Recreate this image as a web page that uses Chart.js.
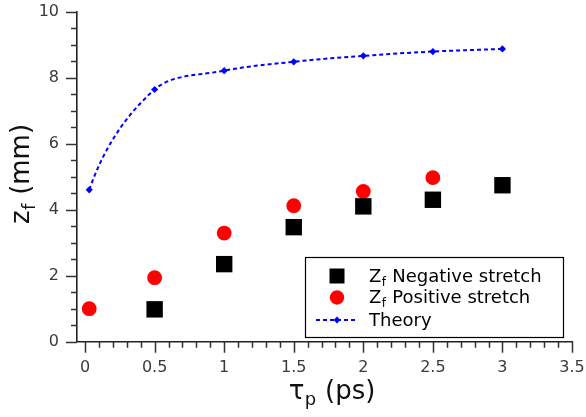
<!DOCTYPE html>
<html>
<head>
<meta charset="utf-8">
<script src="https://cdn.jsdelivr.net/npm/chart.js@4.4.1/dist/chart.umd.min.js"></script>
<style>
    html, body { margin: 0; padding: 0; background: #fff; }
    #wrap { width: 586px; height: 417px; }
</style>
</head>
<body>
<div id="wrap"><canvas id="zfChart"></canvas></div>
<script>
// values
const tauNeg = [0.5, 1, 1.5, 2, 2.5, 3];
const zfNeg = [0.98, 2.35, 3.47, 4.1, 4.3, 4.74];
const tauPos = [0.03, 0.5, 1, 1.5, 2, 2.5];
const zfPos = [1.0, 1.94, 3.29, 4.12, 4.55, 4.97];
const tauTheory = [0.03, 0.5, 1, 1.5, 2, 2.5, 3];
const zfTheory = [4.6, 7.64, 8.21, 8.48, 8.66, 8.79, 8.87];
const xTicks = [0, 0.5, 1, 1.5, 2, 2.5, 3, 3.5];
const yTicks = [0, 2, 4, 6, 8, 10];
const legendItems = [
    ['Z', 'f', ' Negative stretch'],
    ['Z', 'f', ' Positive stretch'],
    ['Theory', '', '']
];

const FONT = '"DejaVu Sans", sans-serif';
const THEORY = 2; // dataset index of the theory curve
const toPoints = (xs, ys) => xs.map((x, i) => ({ x: x, y: ys[i] }));

// text with a subscript part: main + sub + rest
function subText(ctx, parts, x, y, size, align) {
    const subSize = Math.round(size * 0.68);
    ctx.font = size + 'px ' + FONT;
    const w1 = ctx.measureText(parts[0]).width;
    const w3 = ctx.measureText(parts[2]).width;
    ctx.font = subSize + 'px ' + FONT;
    const w2 = parts[1] ? ctx.measureText(parts[1]).width + 1 : 0;
    let x0 = align === 'center' ? x - (w1 + w2 + w3) / 2 : x;
    ctx.textAlign = 'left';
    ctx.textBaseline = 'alphabetic';
    ctx.font = size + 'px ' + FONT;
    ctx.fillText(parts[0], x0, y);
    if (parts[1]) {
        ctx.font = subSize + 'px ' + FONT;
        ctx.fillText(parts[1], x0 + w1 + 0.5, y + size * 0.22);
    }
    ctx.font = size + 'px ' + FONT;
    ctx.fillText(parts[2], x0 + w1 + w2, y);
}

// keep chart.js from adding room for the edge tick labels
function noEdgePadding(scale) {
    scale.paddingTop = 0;
    scale.paddingBottom = 0;
    scale.paddingLeft = 0;
    scale.paddingRight = 0;
}

// start of the spline: parabolic end condition instead of the chord direction
const curveStartPlugin = {
    id: 'curveStart',
    beforeDatasetDraw(chart, args) {
        if (args.index !== THEORY) return;
        const line = args.meta.dataset;
        line.updateControlPoints(chart.chartArea, 'x');
        const pts = args.meta.data;
        const p0 = pts[0], p1 = pts[1];
        const m1x = 3 * (p1.x - p1.cp1x), m1y = 3 * (p1.y - p1.cp1y);
        const m0x = 2 * (p1.x - p0.x) - m1x, m0y = 2 * (p1.y - p0.y) - m1y;
        p0.cp2x = p0.x + m0x / 3;
        p0.cp2y = p0.y + m0y / 3;
        line._path = undefined;
    }
};

const extrasPlugin = {
    id: 'extras',
    afterDraw(chart) {
        const ctx = chart.ctx;
        const xs = chart.scales.x, ys = chart.scales.y;
        const area = chart.chartArea;
        ctx.save();

        // tick marks, major and minor
        ctx.strokeStyle = '#333';
        ctx.lineWidth = 1.5;
        ctx.beginPath();
        for (let i = 0; i <= 35; i++) {
            const px = Math.round(xs.getPixelForValue(i / 10)) + 0.5;
            const len = i % 5 === 0 ? 11 : 6;
            ctx.moveTo(px, area.bottom);
            ctx.lineTo(px, area.bottom + len);
        }
        for (let i = 0; i <= 20; i++) {
            const py = Math.round(ys.getPixelForValue(i / 2)) + 0.5;
            const len = i % 4 === 0 ? 11 : 6;
            ctx.moveTo(area.left, py);
            ctx.lineTo(area.left - len, py);
        }
        ctx.stroke();

        // axis titles
        ctx.fillStyle = '#111';
        subText(ctx, ['\u03C4', 'p', ' (ps)'], 332, 399, 26, 'center');
        ctx.save();
        ctx.translate(29, 174);
        ctx.rotate(-Math.PI / 2);
        subText(ctx, ['z', 'f', ' (mm)'], 0, 0, 26, 'center');
        ctx.restore();

        // legend
        ctx.fillStyle = '#fff';
        ctx.fillRect(305.5, 257.5, 258, 80);
        ctx.strokeStyle = '#000';
        ctx.lineWidth = 1.2;
        ctx.strokeRect(305.5, 257.5, 258, 80);

        const mx = 337;
        ctx.fillStyle = '#000';
        ctx.fillRect(mx - 7.5, 276 - 7.5, 15, 15);
        ctx.fillStyle = '#ff0000';
        ctx.beginPath();
        ctx.arc(mx, 297.5, 7.2, 0, Math.PI * 2);
        ctx.fill();
        ctx.strokeStyle = '#0000ff';
        ctx.lineWidth = 2;
        ctx.setLineDash([4, 3]);
        ctx.beginPath();
        ctx.moveTo(316, 320);
        ctx.lineTo(357, 320);
        ctx.stroke();
        ctx.setLineDash([]);
        ctx.fillStyle = '#0000ff';
        ctx.beginPath();
        ctx.moveTo(mx, 316.5);
        ctx.lineTo(mx + 3.5, 320);
        ctx.lineTo(mx, 323.5);
        ctx.lineTo(mx - 3.5, 320);
        ctx.closePath();
        ctx.fill();

        ctx.fillStyle = '#000';
        const baselines = [281.7, 303.4, 325.5];
        legendItems.forEach((parts, i) => subText(ctx, parts, 369, baselines[i], 18, 'left'));

        ctx.restore();
    }
};

const ctx = document.getElementById('zfChart').getContext('2d');
const zfChart = new Chart(ctx, {
    type: 'scatter',
    data: {
        datasets: [{
            label: 'Zf Negative stretch',
            data: toPoints(tauNeg, zfNeg),
            pointStyle: 'rect',
            pointRadius: 11.6,
            pointHoverRadius: 11.6,
            backgroundColor: '#000',
            borderColor: '#000',
            borderWidth: 0
        }, {
            label: 'Zf Positive stretch',
            data: toPoints(tauPos, zfPos),
            pointStyle: 'circle',
            pointRadius: 7.4,
            pointHoverRadius: 7.4,
            backgroundColor: '#ff0000',
            borderColor: '#ff0000',
            borderWidth: 0
        }, {
            label: 'Theory',
            data: toPoints(tauTheory, zfTheory),
            showLine: true,
            tension: 0.35,
            borderColor: '#0000ff',
            borderWidth: 2,
            borderDash: [4, 3],
            pointStyle: 'rectRot',
            pointRadius: 3.6,
            pointHoverRadius: 3.6,
            pointBackgroundColor: '#0000ff',
            pointBorderColor: '#0000ff',
            pointBorderWidth: 0
        }]
    },
    options: {
        responsive: true,
        maintainAspectRatio: false,
        animation: false,
        clip: false,
        layout: { padding: { top: 7.5, right: 14, left: 0, bottom: 0 } },
        plugins: {
            legend: { display: false },
            tooltip: { enabled: false }
        },
        scales: {
            x: {
                type: 'linear',
                min: -0.058,
                max: 3.5,
                afterBuildTicks: (scale) => { scale.ticks = xTicks.map(v => ({ value: v })); },
                afterFit: (scale) => { scale.height = 75.3; noEdgePadding(scale); },
                grid: { display: true, drawOnChartArea: false, drawTicks: false },
                border: { display: true, color: '#222', width: 1.6 },
                ticks: {
                    callback: (v) => String(v),
                    color: '#3a3a3a',
                    padding: 17,
                    maxRotation: 0,
                    autoSkip: false,
                    font: { family: FONT, size: 16 }
                }
            },
            y: {
                type: 'linear',
                min: 0,
                max: 10,
                afterBuildTicks: (scale) => { scale.ticks = yTicks.map(v => ({ value: v })); },
                afterFit: (scale) => { scale.width = 77; noEdgePadding(scale); },
                grid: { display: true, drawOnChartArea: false, drawTicks: false },
                border: { display: true, color: '#222', width: 1.6 },
                ticks: {
                    callback: (v) => String(v),
                    color: '#3a3a3a',
                    padding: 18,
                    autoSkip: false,
                    font: { family: FONT, size: 16 }
                }
            }
        }
    },
    plugins: [curveStartPlugin, extrasPlugin]
});
</script>
</body>
</html>
